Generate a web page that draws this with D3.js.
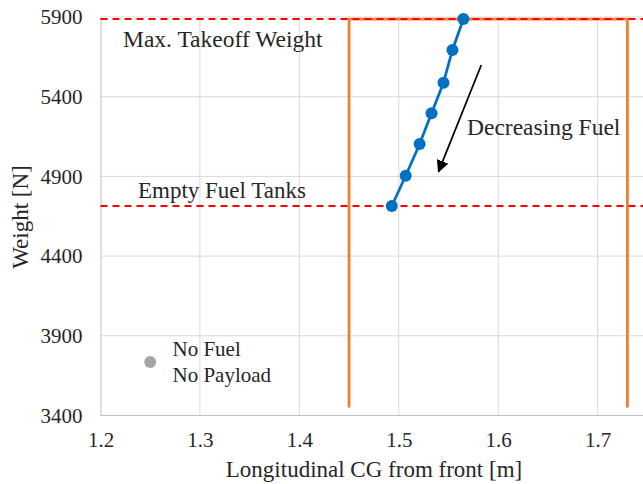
<!DOCTYPE html>
<html>
<head>
<meta charset="utf-8">
<script src="https://cdn.jsdelivr.net/npm/d3@7"></script>
<style>
  body { margin: 0; background: #fff; }
  text { font-family: "Liberation Serif", "Times New Roman", serif; }
</style>
</head>
<body>
<div id="chart"></div>
<script>
// fuel burn path (CG, weight)
var fuel_cg = [1.565, 1.554, 1.545, 1.533, 1.521, 1.507, 1.493];
var fuel_weight = [5887, 5693, 5488, 5296, 5103, 4904, 4714];

// CG envelope (orange)
var env_cg = [1.45, 1.45, 1.73, 1.73];
var env_weight = [3450, 5887, 5887, 3450];

// reference weights (red dashed)
var limit_labels = ['Max. Takeoff Weight', 'Empty Fuel Tanks'];
var limit_weights = [5887, 4714];

// no fuel / no payload point
var empty_point = [1.25, 3735];

var x_ticks = [1.2, 1.3, 1.4, 1.5, 1.6, 1.7];
var y_ticks = [3400, 3900, 4400, 4900, 5400, 5900];

var chart_width = 643;
var chart_height = 484;

var svg = d3.select('#chart')
  .append('svg')
  .attr('width', chart_width)
  .attr('height', chart_height);

var x_scale = d3.scaleLinear()
  .domain([1.2, 1.8])
  .range([100.5, 697]);

var y_scale = d3.scaleLinear()
  .domain([3400, 5900])
  .range([415.5, 17]);

// gridlines
svg.append('g')
  .selectAll('line')
  .data(y_ticks.slice(1))
  .enter()
  .append('line')
  .attr('x1', x_scale(1.2))
  .attr('x2', chart_width)
  .attr('y1', function(d) { return y_scale(d); })
  .attr('y2', function(d) { return y_scale(d); })
  .attr('stroke', '#d9d9d9')
  .attr('stroke-width', 1);

svg.append('g')
  .selectAll('line')
  .data(x_ticks.slice(1))
  .enter()
  .append('line')
  .attr('x1', function(d) { return x_scale(d); })
  .attr('x2', function(d) { return x_scale(d); })
  .attr('y1', y_scale(5900))
  .attr('y2', y_scale(3400))
  .attr('stroke', '#d9d9d9')
  .attr('stroke-width', 1);

// axes
var x_axis = d3.axisBottom(x_scale)
  .tickValues(x_ticks)
  .tickFormat(d3.format('.1f'))
  .tickSize(0)
  .tickPadding(17);
var gx = svg.append('g')
  .attr('transform', 'translate(0,' + y_scale(3400) + ')')
  .call(x_axis);
gx.select('.domain')
  .attr('d', 'M' + x_scale(1.2) + ',0H' + chart_width)
  .attr('stroke', '#bfbfbf');

var y_axis = d3.axisLeft(y_scale)
  .tickValues(y_ticks)
  .tickFormat(d3.format('d'))
  .tickSize(0)
  .tickPadding(18);
var gy = svg.append('g')
  .attr('transform', 'translate(' + x_scale(1.2) + ',0)')
  .call(y_axis);
gy.select('.domain').attr('stroke', '#bfbfbf');

svg.selectAll('.tick text')
  .attr('font-family', '"Liberation Serif", serif')
  .attr('font-size', 21)
  .attr('fill', '#262626');

// axis titles
svg.append('text')
  .attr('x', 374)
  .attr('y', 477)
  .attr('text-anchor', 'middle')
  .attr('font-size', 23)
  .attr('fill', '#262626')
  .text('Longitudinal CG from front [m]');

svg.append('text')
  .attr('transform', 'translate(28,' + 217 + ') rotate(-90)')
  .attr('text-anchor', 'middle')
  .attr('font-size', 23)
  .attr('fill', '#262626')
  .text('Weight [N]');

// envelope
var line = d3.line()
  .x(function(d) { return x_scale(d[0]); })
  .y(function(d) { return y_scale(d[1]); });

svg.append('path')
  .datum(d3.zip(env_cg, env_weight))
  .attr('d', line)
  .attr('fill', 'none')
  .attr('stroke', '#ed7d31')
  .attr('stroke-width', 2.75);

// limit lines
svg.append('g')
  .selectAll('line')
  .data(limit_weights)
  .enter()
  .append('line')
  .attr('x1', x_scale(1.2))
  .attr('x2', chart_width)
  .attr('y1', function(d) { return y_scale(d); })
  .attr('y2', function(d) { return y_scale(d); })
  .attr('stroke', '#ff0000')
  .attr('stroke-width', 2)
  .attr('stroke-dasharray', '7,5');

// limit labels
svg.append('text')
  .attr('x', 123)
  .attr('y', y_scale(limit_weights[0]) + 28)
  .attr('font-size', 23.5)
  .attr('fill', '#262626')
  .text(limit_labels[0]);

svg.append('text')
  .attr('x', 138)
  .attr('y', y_scale(limit_weights[1]) - 8)
  .attr('font-size', 23)
  .attr('fill', '#262626')
  .text(limit_labels[1]);

// fuel path
var fuel = d3.zip(fuel_cg, fuel_weight);
svg.append('path')
  .datum(fuel)
  .attr('d', line)
  .attr('fill', 'none')
  .attr('stroke', '#0070c0')
  .attr('stroke-width', 2.75);

svg.append('g')
  .selectAll('circle')
  .data(fuel)
  .enter()
  .append('circle')
  .attr('cx', function(d) { return x_scale(d[0]); })
  .attr('cy', function(d) { return y_scale(d[1]); })
  .attr('r', 6)
  .attr('fill', '#0070c0');

// arrow
svg.append('defs')
  .append('marker')
  .attr('id', 'arrow-head')
  .attr('viewBox', '0 0 10 10')
  .attr('refX', 9)
  .attr('refY', 5)
  .attr('markerWidth', 7)
  .attr('markerHeight', 7)
  .attr('markerUnits', 'strokeWidth')
  .attr('orient', 'auto')
  .append('path')
  .attr('d', 'M0,0L10,5L0,10z')
  .attr('fill', '#000');

svg.append('line')
  .attr('x1', x_scale(1.583))
  .attr('y1', y_scale(5599))
  .attr('x2', x_scale(1.540))
  .attr('y2', y_scale(4930))
  .attr('stroke', '#000')
  .attr('stroke-width', 1.75)
  .attr('marker-end', 'url(#arrow-head)');

svg.append('text')
  .attr('x', 467)
  .attr('y', 135)
  .attr('font-size', 23.5)
  .attr('fill', '#262626')
  .text('Decreasing Fuel');

// no fuel / no payload
svg.append('circle')
  .attr('cx', x_scale(empty_point[0]))
  .attr('cy', y_scale(empty_point[1]))
  .attr('r', 6)
  .attr('fill', '#a5a5a5');

var nf = svg.append('text')
  .attr('x', 172.5)
  .attr('y', 356)
  .attr('font-size', 21)
  .attr('fill', '#262626');
nf.append('tspan').text('No Fuel');
nf.append('tspan')
  .attr('x', 172.5)
  .attr('dy', 25.5)
  .text('No Payload');
</script>
</body>
</html>
